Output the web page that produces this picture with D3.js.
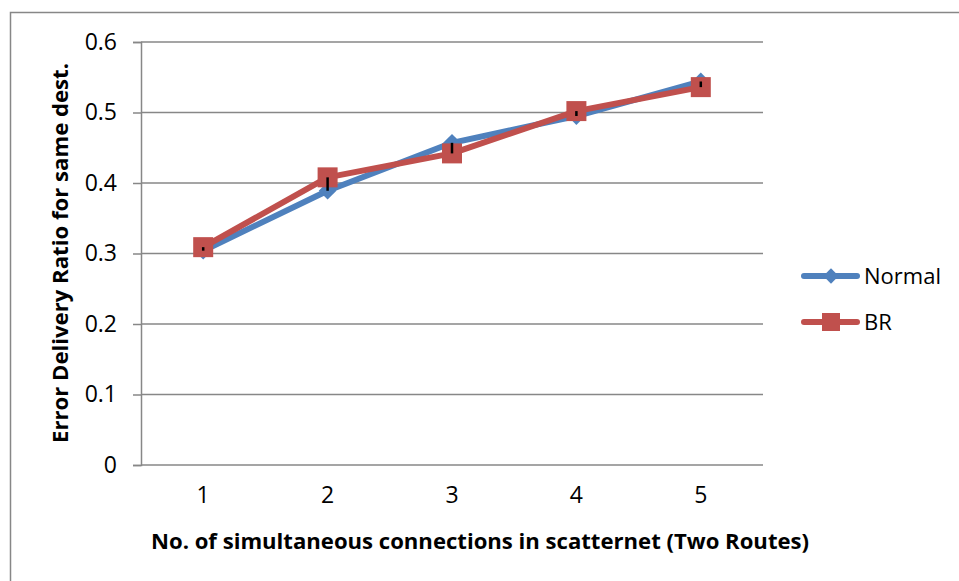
<!DOCTYPE html>
<html><head><meta charset="utf-8">
<script src="https://cdn.jsdelivr.net/npm/d3@7"></script>
<style>body{margin:0;background:#fff;} svg{display:block;} text{font-family:"Open Sans",sans-serif;fill:#000;}</style>
</head><body>
<svg id="c" width="959" height="581"></svg>
<script>
const categories = ["1","2","3","4","5"];
const normalValues = [0.304, 0.389, 0.457, 0.495, 0.544];
const brValues = [0.309, 0.408, 0.442, 0.502, 0.536];
const yTicks = [0, 0.1, 0.2, 0.3, 0.4, 0.5, 0.6];
const seriesNames = ["Normal", "BR"];

const svg = d3.select("#c");
const blue = "#4F81BD", red = "#C0504D", grid = "#878787";

svg.append("rect").attr("x",10.5).attr("y",12.5).attr("width",1000).attr("height",1000)
  .attr("fill","none").attr("stroke",grid).attr("stroke-width",1.5);

const x = d3.scaleBand().domain(categories).range([141, 763]);
const y = d3.scaleLinear().domain([0, 0.6]).range([465, 42]);

// gridlines
svg.append("g").selectAll("line").data(yTicks.filter(d=>d>0)).join("line")
  .attr("x1",141).attr("x2",763).attr("y1",d=>y(d)).attr("y2",d=>y(d))
  .attr("stroke",grid).attr("stroke-width",1.5);

// y axis
const yAxis = d3.axisLeft(y).tickValues(yTicks).tickSize(8).tickPadding(16)
  .tickFormat(d=>d===0?"0":d3.format(".1f")(d));
const gy = svg.append("g").attr("transform","translate(141,0)").call(yAxis);
gy.select(".domain").attr("stroke",grid).attr("stroke-width",1.5);
gy.selectAll(".tick line").attr("stroke",grid).attr("stroke-width",1.5);
gy.selectAll(".tick text").style("font-size","23px").attr("fill","#000");

// x axis
const xAxis = d3.axisBottom(x).tickSize(0).tickPadding(22);
const gx = svg.append("g").attr("transform","translate(0,465)").call(xAxis);
gx.select(".domain").attr("d","M141,0H763").attr("stroke",grid).attr("stroke-width",1.5);
gx.selectAll(".tick text").style("font-size","23px").attr("fill","#000");

// titles
svg.append("text").attr("x",480).attr("y",549).attr("text-anchor","middle")
  .style("font-size","22px").style("font-weight","bold")
  .attr("textLength",658).attr("lengthAdjust","spacingAndGlyphs")
  .text("No. of simultaneous connections in scatternet (Two Routes)");
svg.append("text").attr("transform","translate(68,253) rotate(-90)").attr("text-anchor","middle")
  .style("font-size","22px").style("font-weight","bold")
  .attr("textLength",380).attr("lengthAdjust","spacingAndGlyphs")
  .text("Error Delivery Ratio for same dest.");

const cx = (d,i)=>x(categories[i]) + x.bandwidth()/2;
const line = d3.line().x((d,i)=>cx(d,i)).y(d=>y(d));

// Normal series
svg.append("path").datum(normalValues).attr("d",line).attr("fill","none")
  .attr("stroke",blue).attr("stroke-width",6).attr("stroke-linejoin","round");
const diamond = d3.symbol().type(d3.symbolDiamond2).size(200);
svg.append("g").selectAll("path").data(normalValues).join("path")
  .attr("d",diamond).attr("transform",(d,i)=>`translate(${cx(d,i)},${y(d)})`).attr("fill",blue);

// BR series
svg.append("path").datum(brValues).attr("d",line).attr("fill","none")
  .attr("stroke",red).attr("stroke-width",6).attr("stroke-linejoin","round");
svg.append("g").selectAll("rect").data(brValues).join("rect")
  .attr("x",(d,i)=>cx(d,i)-10).attr("y",d=>y(d)-10).attr("width",20).attr("height",20).attr("fill",red);

// difference bars
svg.append("g").selectAll("line").data(normalValues).join("line")
  .attr("x1",(d,i)=>cx(d,i)).attr("x2",(d,i)=>cx(d,i))
  .attr("y1",d=>y(d)).attr("y2",(d,i)=>y(brValues[i])+(Math.abs(y(d)-y(brValues[i]))<2?1.5:0))
  .attr("stroke","#000").attr("stroke-width",2.5);

// legend
const leg = svg.append("g");
const legY = [276, 322];
seriesNames.forEach((n,i)=>{
  const g = leg.append("g").attr("transform",`translate(0,${legY[i]})`);
  g.append("line").attr("x1",804).attr("x2",857).attr("y1",0).attr("y2",0)
    .attr("stroke",i?red:blue).attr("stroke-width",6).attr("stroke-linecap","round");
  if(i===0) g.append("path").attr("d",d3.symbol().type(d3.symbolDiamond2).size(150)).attr("transform","translate(831,0)").attr("fill",blue);
  else g.append("rect").attr("x",822).attr("y",-9).attr("width",18).attr("height",18).attr("fill",red);
  g.append("text").attr("x",864).attr("y",0).attr("dy","0.35em").style("font-size","22px").text(n);
});
</script>
</body></html>
